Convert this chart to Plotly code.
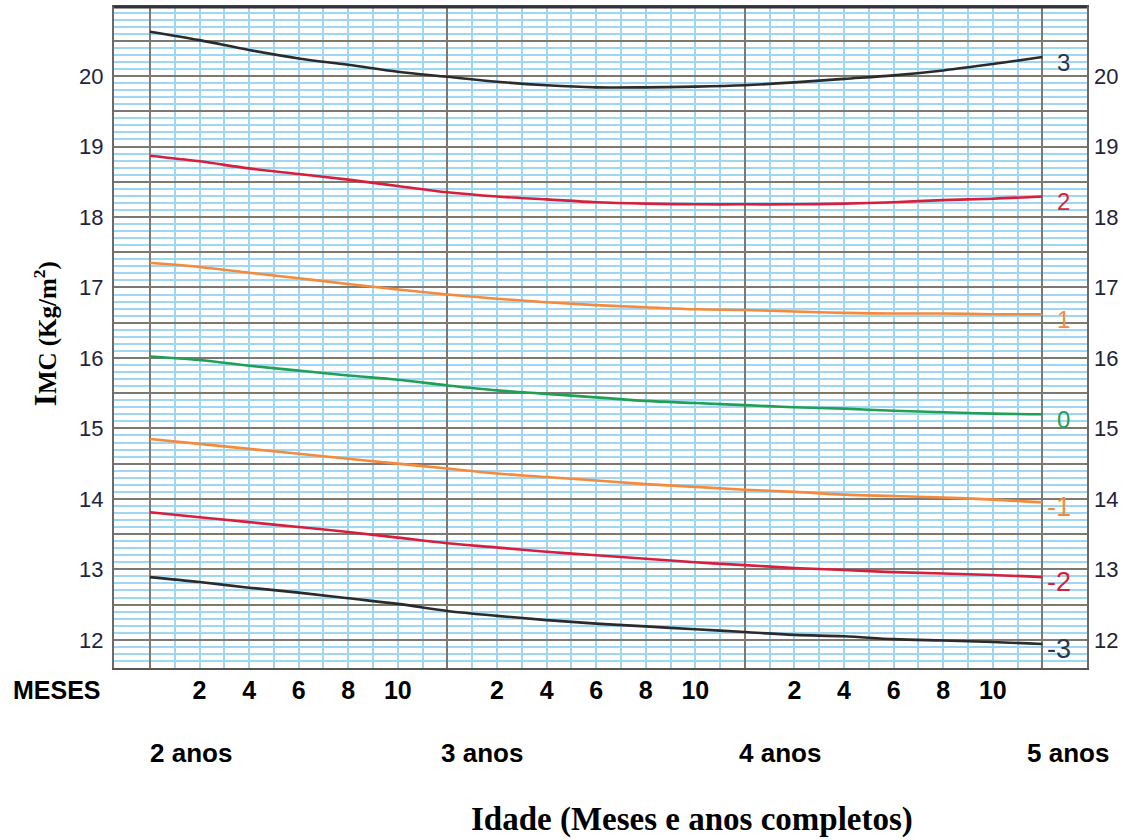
import plotly.graph_objects as go

# ---- data ----
months = [24, 26, 28, 30, 32, 34, 36, 38, 40, 42, 44, 46, 48, 50, 52, 54, 56, 58, 60]
sd_p3 = [20.63, 20.51, 20.37, 20.25, 20.16, 20.06, 19.99, 19.92, 19.87, 19.84, 19.84, 19.85, 19.87, 19.91, 19.96, 20.01, 20.08, 20.17, 20.27]
sd_p2 = [18.87, 18.79, 18.69, 18.61, 18.53, 18.44, 18.35, 18.29, 18.25, 18.21, 18.19, 18.18, 18.18, 18.18, 18.19, 18.21, 18.24, 18.26, 18.29]
sd_p1 = [17.35, 17.29, 17.21, 17.13, 17.05, 16.97, 16.90, 16.84, 16.79, 16.75, 16.72, 16.69, 16.68, 16.66, 16.64, 16.63, 16.63, 16.62, 16.62]
sd_0 = [16.02, 15.97, 15.89, 15.82, 15.75, 15.69, 15.61, 15.54, 15.49, 15.44, 15.39, 15.36, 15.33, 15.30, 15.28, 15.25, 15.23, 15.21, 15.20]
sd_m1 = [14.85, 14.78, 14.71, 14.64, 14.57, 14.50, 14.43, 14.36, 14.31, 14.26, 14.21, 14.17, 14.13, 14.10, 14.06, 14.04, 14.02, 13.99, 13.95]
sd_m2 = [13.81, 13.74, 13.67, 13.60, 13.53, 13.45, 13.37, 13.31, 13.25, 13.20, 13.15, 13.10, 13.06, 13.02, 12.99, 12.96, 12.94, 12.92, 12.89]
sd_m3 = [12.89, 12.82, 12.74, 12.67, 12.59, 12.51, 12.41, 12.34, 12.28, 12.23, 12.19, 12.15, 12.11, 12.07, 12.05, 12.01, 11.99, 11.97, 11.94]

curve_labels = ["3", "2", "1", "0", "-1", "-2", "-3"]
curves = [sd_p3, sd_p2, sd_p1, sd_0, sd_m1, sd_m2, sd_m3]

month_tick_vals = [26, 28, 30, 32, 34, 38, 40, 42, 44, 46, 50, 52, 54, 56, 58]
month_tick_text = ["2", "4", "6", "8", "10"] * 3
year_vals = [24, 36, 48, 60]
year_text = ["2 anos", "3 anos", "4 anos", "5 anos"]
minor_month_vals = list(range(24, 61))

y_tick_vals = [12 + 0.5 * i for i in range(18)]
y_tick_text = [str(int(v)) if v == int(v) else "" for v in y_tick_vals]

# ---- styles ----
DARK = "#2b2b2b"
RED = "#d81e3c"
ORANGE = "#f58a3c"
GREEN = "#1fa055"
colors = [DARK, RED, ORANGE, GREEN, ORANGE, RED, DARK]
label_colors = ["#2a3550", RED, ORANGE, GREEN, ORANGE, RED, "#2a3550"]
BLUE_GRID = "#9fd6f2"
GRAY_GRID = "#7a7a72"
TICK_COLOR = "#1e2440"
SANS = "Liberation Sans, Arial, sans-serif"
SERIF = "Liberation Serif, Times New Roman, serif"

fig = go.Figure()
for vals, col in zip(curves, colors):
    fig.add_trace(go.Scatter(x=months, y=vals, mode="lines", line=dict(color=col, width=2.6, shape="spline"),
                             hoverinfo="skip", showlegend=False))
# invisible trace to anchor the overlay axes
fig.add_trace(go.Scatter(x=[months[0]], y=[sd_0[0]], xaxis="x2", yaxis="y2", mode="markers",
                         marker=dict(opacity=0), hoverinfo="skip", showlegend=False))

XR = [22.55, 61.8]
YR = [11.6, 20.98]

fig.update_layout(
    width=1130, height=840,
    margin=dict(l=114, r=43, t=5, b=172),
    paper_bgcolor="white", plot_bgcolor="white",
    xaxis=dict(range=XR, tickmode="array", tickvals=month_tick_vals, ticktext=month_tick_text,
               showgrid=False, zeroline=False, ticks="", ticklabelstandoff=-1,
               tickfont=dict(family=SANS, size=25, color="black", weight="bold"),
               showline=True, linecolor="#555555", linewidth=2, mirror=True,
               minor=dict(tickmode="array", tickvals=minor_month_vals, showgrid=True,
                          gridcolor=BLUE_GRID, gridwidth=2, ticks="")),
    xaxis2=dict(range=XR, matches="x", overlaying="x", side="bottom", tickmode="array",
                tickvals=year_vals, showticklabels=False, showgrid=True, gridcolor=GRAY_GRID,
                gridwidth=2, zeroline=False, ticks=""),
    yaxis=dict(range=YR, tickmode="array", tickvals=y_tick_vals, ticktext=y_tick_text,
               showgrid=True, gridcolor=GRAY_GRID, gridwidth=2, zeroline=False, ticks="",
               ticklabelstandoff=4,
               tickfont=dict(family=SANS, size=22, color=TICK_COLOR),
               showline=True, linecolor="#6a6a6a", linewidth=2, mirror=True,
               minor=dict(tickmode="linear", tick0=12, dtick=0.1, showgrid=True,
                          gridcolor=BLUE_GRID, gridwidth=1.5, ticks="")),
    yaxis2=dict(range=YR, matches="y", overlaying="y", side="right", tickmode="array",
                tickvals=y_tick_vals, ticktext=y_tick_text, showgrid=False, zeroline=False,
                ticks="", ticklabelstandoff=6,
                tickfont=dict(family=SANS, size=22, color=TICK_COLOR)),
)

# thick top border
fig.add_shape(type="line", xref="paper", yref="paper", x0=0, x1=1, y0=1, y1=1,
              line=dict(color="#333333", width=3))

# curve end labels
for lab, vals, col in zip(curve_labels, curves, label_colors):
    neg = lab.startswith("-")
    fig.add_annotation(x=months[-1], y=vals[-1], text=lab, showarrow=False, xanchor="left",
                       yanchor="middle", xshift=3 if neg else 13, yshift=-5,
                       font=dict(family=SANS, size=27 if neg else 24, color=col))

# year labels
year_offsets = [1.65, 1.4, 1.4, 1.05]
for v, t, off in zip(year_vals, year_text, year_offsets):
    fig.add_annotation(x=v + off, y=-0.128, yref="paper", text=t, showarrow=False,
                       xanchor="center", yanchor="middle",
                       font=dict(family=SANS, size=26, color="black", weight="bold"))

fig.add_annotation(x=-0.059, y=-0.033, xref="paper", yref="paper", text="MESES", showarrow=False,
                   xanchor="center", yanchor="middle",
                   font=dict(family=SANS, size=25, color="black", weight="bold"))

fig.add_annotation(x=0.594, y=-0.229, xref="paper", yref="paper",
                   text="Idade (Meses e anos completos)", showarrow=False,
                   xanchor="center", yanchor="middle",
                   font=dict(family=SERIF, size=33, color="black", weight="bold"))

fig.add_annotation(x=(45 - 114) / 973, y=0.505, xref="paper", yref="paper",
                   text="<span style='font-size:31px'>I</span>MC (Kg/m<sup>2</sup>)",
                   showarrow=False, textangle=-90, xanchor="center", yanchor="middle",
                   font=dict(family=SERIF, size=25, color="black", weight="bold"))

fig.write_html("out.html", config={"displayModeBar": False},
               post_script="document.body.style.margin='0';")
